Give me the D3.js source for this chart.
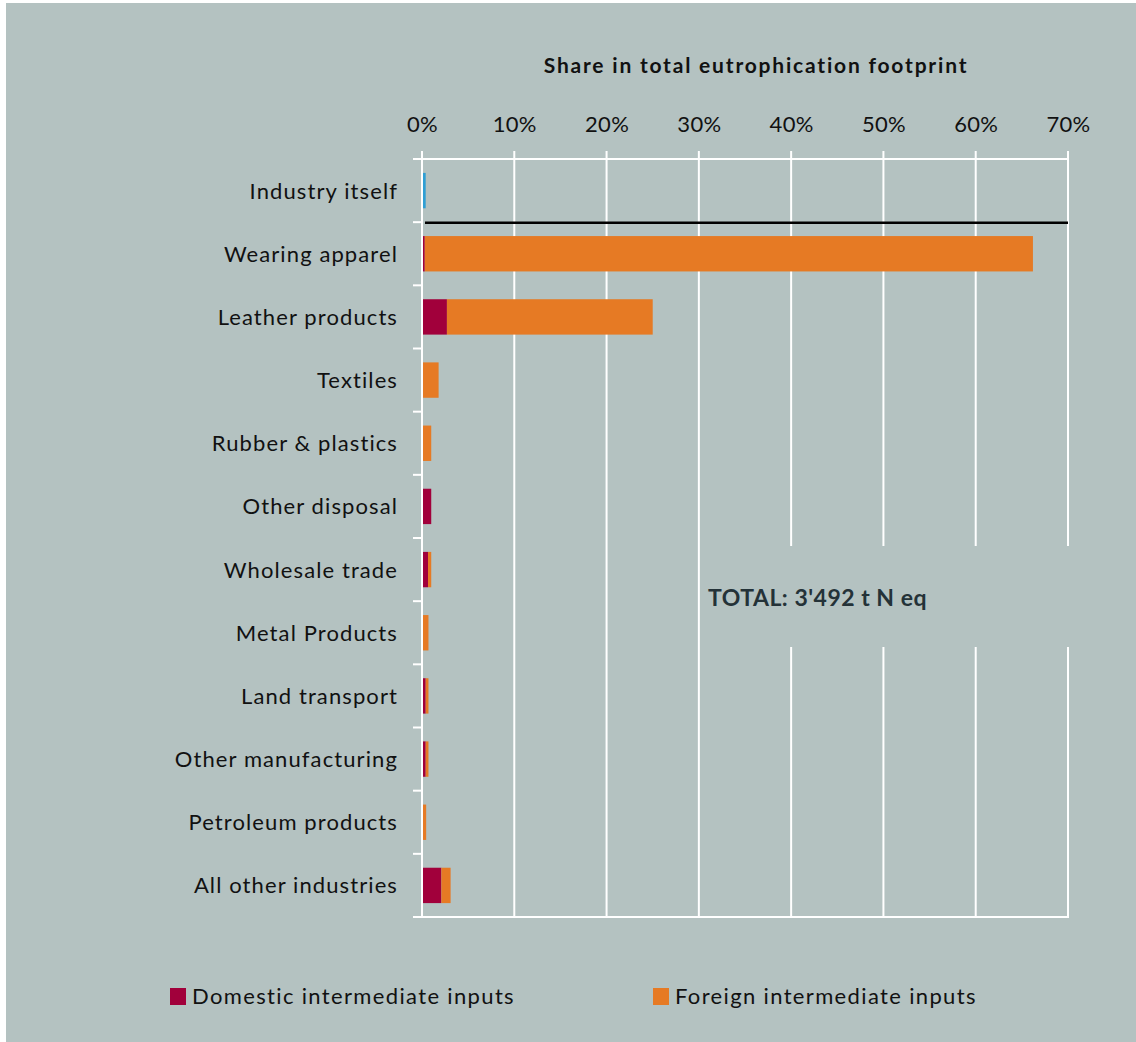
<!DOCTYPE html>
<html>
<head>
<meta charset="utf-8">
<script src="https://cdn.jsdelivr.net/npm/d3@7"></script>
<style>
  html, body { margin: 0; padding: 0; background: #ffffff; }
  svg { display: block; }
  text { font-family: Lato, "Open Sans", sans-serif; }
</style>
</head>
<body>
<svg id="chart" width="1136" height="1042"></svg>
<script>
// Industries contributing to the eutrophication footprint (share in %)
const categories = [
  "Industry itself", "Wearing apparel", "Leather products", "Textiles",
  "Rubber & plastics", "Other disposal", "Wholesale trade", "Metal Products",
  "Land transport", "Other manufacturing", "Petroleum products", "All other industries"
];
const ownShare      = [0.4, 0, 0, 0, 0, 0, 0, 0, 0, 0, 0, 0];
const domesticShare = [0, 0.3, 2.7, 0.05, 0.05, 1.0, 0.65, 0.05, 0.4, 0.4, 0.05, 2.1];
const foreignShare  = [0, 65.9, 22.3, 1.75, 0.95, 0, 0.35, 0.65, 0.3, 0.3, 0.4, 1.0];
const xTicks = [0, 10, 20, 30, 40, 50, 60, 70];
const seriesNames = ["Domestic intermediate inputs", "Foreign intermediate inputs"];
const totalLabel = "TOTAL: 3'492 t N eq";
const chartTitle = "Share in total eutrophication footprint";

const colors = { own: "#2f9fd4", domestic: "#a1003b", foreign: "#e67a24" };
const bg = "#b4c2c1";

const svg = d3.select("#chart");
svg.append("rect").attr("x", 6).attr("y", 3).attr("width", 1130).attr("height", 1039).attr("fill", bg);

const plotLeft = 422, plotRight = 1068, plotTop = 159, plotBottom = 917;

const x = d3.scaleLinear().domain([0, 70]).range([plotLeft, plotRight]);
const y = d3.scaleBand().domain(categories).range([plotTop, plotBottom])
  .paddingInner(0.44).paddingOuter(0.22);

// Vertical gridlines with small ticks above the plot
const grid = svg.append("g");
grid.selectAll("line.v").data(xTicks).join("line")
  .attr("x1", d => x(d)).attr("x2", d => x(d))
  .attr("y1", plotTop - 8).attr("y2", plotBottom)
  .attr("stroke", "#ffffff").attr("stroke-width", 2);
// Top and bottom frame lines
[plotTop, plotBottom].forEach(yy => {
  grid.append("line").attr("x1", plotLeft - 9).attr("x2", plotRight + 1)
    .attr("y1", yy).attr("y2", yy).attr("stroke", "#ffffff").attr("stroke-width", 2);
});
// Category separator ticks on the left axis
const bounds = d3.range(categories.length + 1).map(i => plotTop + i * y.step());
grid.selectAll("line.t").data(bounds).join("line")
  .attr("x1", plotLeft - 9).attr("x2", plotLeft)
  .attr("y1", d => d).attr("y2", d => d)
  .attr("stroke", "#ffffff").attr("stroke-width", 2);

// Top axis labels
const xAxis = d3.axisTop(x).tickValues(xTicks).tickFormat(d => d + "%").tickSize(0).tickPadding(0);
const gx = svg.append("g").attr("transform", `translate(0,${132})`).call(xAxis);
gx.select(".domain").remove();
gx.selectAll("text").attr("font-size", 22).attr("fill", "#111").attr("dy", 0)
  .attr("font-family", "Lato, sans-serif").attr("letter-spacing", 0.3);

// Category labels
const yAxis = d3.axisLeft(y).tickSize(0).tickPadding(0);
const gy = svg.append("g").attr("transform", `translate(${398},0)`).call(yAxis);
gy.select(".domain").remove();
gy.selectAll("text").attr("font-size", 22).attr("fill", "#111")
  .attr("font-family", "Lato, sans-serif").attr("dy", "0.36em").attr("letter-spacing", 1.1);

// Stacked bars
const rows = categories.map((c, i) => ({
  category: c, own: ownShare[i], domestic: domesticShare[i], foreign: foreignShare[i]
}));
const stack = d3.stack().keys(["own", "domestic", "foreign"]);
const layers = stack(rows);
svg.append("g").selectAll("g").data(layers).join("g")
  .attr("fill", d => colors[d.key])
  .selectAll("rect").data(d => d).join("rect")
  .attr("x", d => x(d[0]))
  .attr("y", d => y(d.data.category))
  .attr("width", d => Math.max(0, x(d[1]) - x(d[0])))
  .attr("height", y.bandwidth());

// Redraw the zero axis line over bar starts
svg.append("line").attr("x1", x(0)).attr("x2", x(0)).attr("y1", plotTop - 8).attr("y2", plotBottom)
  .attr("stroke", "#ffffff").attr("stroke-width", 2);

// Separator between the industry itself and its suppliers
const sepY = plotTop + y.step();
svg.append("line").attr("x1", x(0) + 3).attr("x2", x(70))
  .attr("y1", sepY + 0.5).attr("y2", sepY + 0.5)
  .attr("stroke", "#000").attr("stroke-width", 2.5);

// Total annotation box
svg.append("rect").attr("x", 703).attr("y", 546).attr("width", 372).attr("height", 101).attr("fill", bg);
svg.append("text").attr("x", 708).attr("y", 606).text(totalLabel)
  .attr("font-size", 23).attr("font-weight", "bold").attr("fill", "#243238")
  .attr("letter-spacing", 0.5);

// Title
svg.append("text").attr("x", 756).attr("y", 73).attr("text-anchor", "middle")
  .text(chartTitle).attr("font-size", 21).attr("font-weight", "bold").attr("fill", "#111")
  .attr("letter-spacing", 1.8);

// Legend
const legend = svg.append("g");
const legendX = [170, 653];
seriesNames.forEach((name, i) => {
  const key = i === 0 ? "domestic" : "foreign";
  legend.append("rect").attr("x", legendX[i]).attr("y", 988).attr("width", 16).attr("height", 17)
    .attr("fill", colors[key]);
  legend.append("text").attr("x", legendX[i] + 22).attr("y", 1004).text(name)
    .attr("font-size", 22).attr("fill", "#111").attr("letter-spacing", 1.35);
});
</script>
</body>
</html>
